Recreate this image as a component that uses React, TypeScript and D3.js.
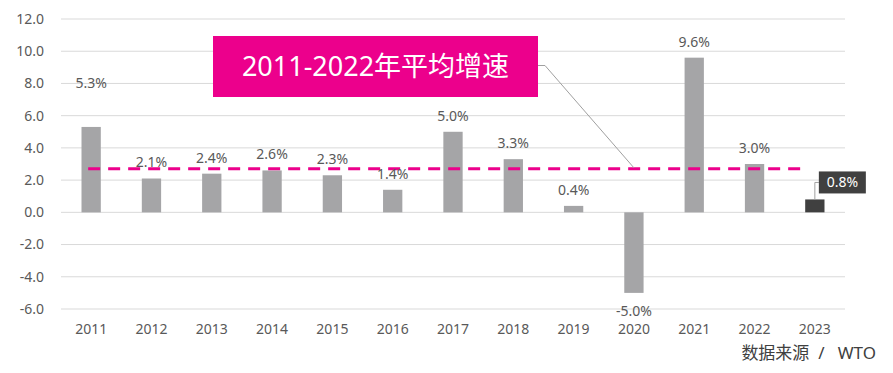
import * as React from "react";
import * as d3 from "d3";

const years = ["2011", "2012", "2013", "2014", "2015", "2016", "2017", "2018", "2019", "2020", "2021", "2022", "2023"];
const growth = [5.3, 2.1, 2.4, 2.6, 2.3, 1.4, 5.0, 3.3, 0.4, -5.0, 9.6, 3.0, 0.8];
const yTicks = [-6, -4, -2, 0, 2, 4, 6, 8, 10, 12];
const avgGrowth = 2.7;
const avgLabel = "2011-2022年平均增速";
const sourceText = "数据来源  /   WTO";

const W = 893;
const H = 373;
const FONT = "'Noto Sans', 'Noto Sans CJK SC', sans-serif";

export default function App() {
  const margin = { left: 61, right: 48, top: 19, bottom: 64 };
  const x = d3
    .scaleBand()
    .domain(years)
    .range([margin.left, W - margin.right])
    .paddingInner(0.68)
    .paddingOuter(0.34);
  const y = d3.scaleLinear().domain([-6, 12]).range([H - margin.bottom, margin.top]);

  // plain hyphen for negatives, like the source chart
  const num = (v: number) => v.toFixed(1);
  const fmt = (v: number) => num(v) + "%";
  const last = years.length - 1;
  const cx = (yr: string) => (x(yr) as number) + x.bandwidth() / 2;

  // annotation box for the average line
  const box = { x: 213, y: 36, w: 325, h: 61 };
  const avgY = y(avgGrowth);

  // last bar callout
  const lastTop = y(growth[last]);
  const lastX = cx(years[last]);

  return (
    <div style={{ position: "fixed", left: 0, top: 0 }}>
      <svg width={W} height={H} style={{ display: "block", background: "#fff" }}>
        {/* grid */}
        {yTicks.map((t) => (
          <g key={t}>
            <line x1={margin.left} x2={W - margin.right} y1={y(t)} y2={y(t)} stroke="#d9d9d9" strokeWidth={1} />
            <text x={44} y={y(t)} dy="0.35em" textAnchor="end" fontSize={14} fill="#595959" fontFamily={FONT}>
              {num(t)}
            </text>
          </g>
        ))}

        {/* bars */}
        {growth.map((v, i) => (
          <rect
            key={years[i]}
            x={x(years[i])}
            y={y(Math.max(0, v))}
            width={x.bandwidth()}
            height={Math.abs(y(v) - y(0))}
            fill={i === last ? "#404040" : "#a5a5a7"}
          />
        ))}

        {/* average line */}
        <line
          x1={cx(years[0]) - 3}
          x2={cx(years[last - 1]) + 47}
          y1={avgY}
          y2={avgY}
          stroke="#ec008c"
          strokeWidth={3}
          strokeDasharray="12 8"
        />

        {/* value labels */}
        {growth.map((v, i) => {
          if (i === last) return null;
          const extra = years[i] === "2011" ? 28 : 0;
          const ly = v >= 0 ? y(v) - 16 - extra : y(v) + 18;
          return (
            <text key={years[i]} x={cx(years[i])} y={ly} dy="0.35em" textAnchor="middle" fontSize={14} fill="#595959" fontFamily={FONT}>
              {fmt(v)}
            </text>
          );
        })}

        {/* x axis labels */}
        {years.map((yr) => (
          <text key={yr} x={cx(yr)} y={329} dy="0.35em" textAnchor="middle" fontSize={14} fill="#595959" fontFamily={FONT}>
            {yr}
          </text>
        ))}

        {/* average annotation */}
        <polyline
          points={`${box.x + box.w},${box.y + box.h / 2 - 1} ${box.x + box.w + 7},${box.y + box.h / 2 - 1} ${cx("2020")},${avgY - 1}`}
          fill="none"
          stroke="#a0a0a0"
          strokeWidth={1}
        />
        <rect x={box.x} y={box.y} width={box.w} height={box.h} fill="#ec008c" />
        <text x={box.x + box.w / 2} y={box.y + box.h / 2} dy="0.36em" textAnchor="middle" fontSize={27} fill="#fff" fontFamily={FONT}>
          {avgLabel}
        </text>

        {/* last value callout */}
        <polyline
          points={`${lastX},${lastTop} ${lastX},${lastTop - 17} ${lastX + 4},${lastTop - 17}`}
          fill="none"
          stroke="#a0a0a0"
          strokeWidth={1}
        />
        <rect x={lastX + 4} y={lastTop - 28} width={47} height={22} fill="#404040" />
        <text x={lastX + 27.5} y={lastTop - 17} dy="0.36em" textAnchor="middle" fontSize={14} fill="#fff" fontFamily={FONT}>
          {fmt(growth[last])}
        </text>

        {/* source */}
        <text x={876} y={353} dy="0.35em" textAnchor="end" fontSize={17} fill="#404040" fontFamily={FONT} style={{ whiteSpace: "pre" }}>
          {sourceText}
        </text>
      </svg>
    </div>
  );
}
